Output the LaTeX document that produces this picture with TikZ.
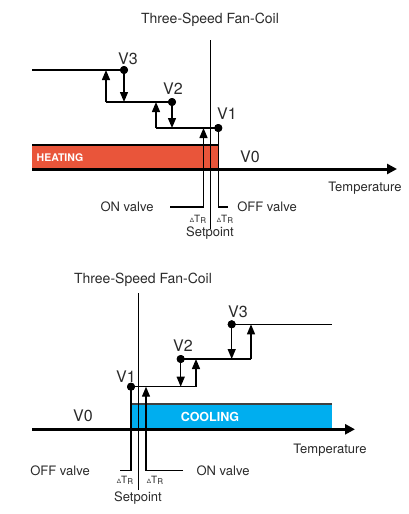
\documentclass[tikz,border=0pt]{standalone}
\usepackage{fontspec}
\setmainfont{TeX Gyre Heros}
\usetikzlibrary{arrows.meta}
\definecolor{heatred}{HTML}{E9553A}
\definecolor{coolblue}{HTML}{00AEEF}
\definecolor{txtgray}{HTML}{2A2A2A}
\newcommand\dtrlabel{{\fontsize{6}{6}\selectfont Δ}{\fontsize{10}{10}\selectfont T}\raisebox{-1pt}{\fontsize{8}{8}\selectfont R}}
\tikzset{
  lnk/.style={line width=1.3pt, black},
  upar/.style={lnk, -{Triangle[width=8pt,length=10pt]}},
  axisline/.style={line width=3pt, black, -{Triangle[width=10pt,length=10pt]}},
  barline/.style={line width=2pt},
  dotmark/.style={circle, fill=black, minimum size=8pt, inner sep=0pt},
  lbl/.style={font=\fontsize{13}{13}\selectfont, text=txtgray, inner sep=0pt},
  ttl/.style={font=\fontsize{14}{14}\selectfont, text=txtgray, inner sep=0pt},
  vlbl/.style={font=\fontsize{16}{16}\selectfont, text=txtgray, inner sep=0pt},
  dtr/.style={text=txtgray, inner sep=0pt},
  barlbl/.style={text=white, inner sep=0pt, font=\bfseries},
}
\begin{document}
\begin{tikzpicture}[x=1pt,y=-1pt]
\useasboundingbox (0,0) rectangle (408,514);
\fill[white] (0,0) rectangle (408,514);

% ================= TOP: HEATING =================
% coordinates
\coordinate (hV3l) at (32,70);
\coordinate (hU3t) at (106,70);
\coordinate (hU3b) at (106,102);
\coordinate (hD3b) at (124,102);
\coordinate (hU2t) at (156,102);
\coordinate (hU2b) at (156,128);
\coordinate (hD2b) at (172,128);
\coordinate (hOnT) at (203.5,128);
\coordinate (hOnC) at (203.5,207);
\coordinate (hOnL) at (170,207);
\coordinate (hOffC) at (218.3,207);
\coordinate (hOffR) at (228,207);
\coordinate (hSpT) at (210.7,40);
\coordinate (hSpB) at (210.7,229);
\coordinate (hAxL) at (32,169);
\coordinate (hAxR) at (397,169);
\coordinate (hBarTL) at (32,145);
\coordinate (hBarTR) at (218.3,145);
\coordinate (hBarBR) at (218.3,169);

% bar
\fill[heatred] (hBarTL) rectangle (hBarBR);
\draw[barline] (hBarTL) -- (hBarTR);
\node[barlbl, font=\bfseries\fontsize{10.5}{10.5}\selectfont] (hHeat) at (60,157.5) {HEATING};

% dots
\node[dotmark] (hV3) at (124,70) {};
\node[dotmark] (hV2) at (172,102) {};
\node[dotmark] (hV1) at (218.3,128) {};

% step lines
\draw[lnk] (hV3l) -- (hV3.center);
\draw[lnk] (hU3b) -- (hV2.center);
\draw[lnk] (hU2b) -- (hV1.center);
\draw[upar] (hU3b) -- (hU3t);
\draw[upar] (hV3.center) -- (hD3b);
\draw[upar] (hU2b) -- (hU2t);
\draw[upar] (hV2.center) -- (hD2b);
% valves
\draw[upar] (hOnL) -- (hOnC) -- (hOnT);
\draw[lnk] (hV1.center) -- (hOffC) -- (hOffR);
% setpoint line
\draw[lnk, line width=1.1pt] (hSpT) -- (hSpB);
% axis
\draw[axisline] (hAxL) -- (hAxR);
% redraw dots on top
\node[dotmark] at (hV3) {};
\node[dotmark] at (hV2) {};
\node[dotmark] at (hV1) {};

% labels
\node[ttl] (hTitle) at (210,20) {Three-Speed Fan-Coil};
\node[vlbl] (hV3t) at (128,59) {V3};
\node[vlbl] (hV2t) at (173,89) {V2};
\node[vlbl] (hV1t) at (227,114) {V1};
\node[vlbl] (hV0t) at (250,157) {V0};
\node[lbl] (hTemp) at (365,188) {Temperature};
\node[lbl] (hOnTxt) at (127,207) {ON valve};
\node[lbl] (hOffTxt) at (267,207) {OFF valve};
\node[dtr] (hDt1) at (198,219) {\dtrlabel};
\node[dtr] (hDt2) at (225,219) {\dtrlabel};
\node[lbl] (hSet) at (210,233) {Setpoint};

% ================= BOTTOM: COOLING =================
\coordinate (cSpT) at (138.3,293);
\coordinate (cSpB) at (138.3,490);
\coordinate (cOffC) at (131,470.7);
\coordinate (cOffL) at (120,470.7);
\coordinate (cOnR) at (183,470.7);
\coordinate (cOnC) at (146,470.7);
\coordinate (cOnT) at (146,386.7);
\coordinate (cU1b) at (196,386.7);
\coordinate (cU1t) at (196,359);
\coordinate (cD2b) at (180.7,386.7);
\coordinate (cU2b) at (251,359);
\coordinate (cU2t) at (251,324.3);
\coordinate (cD3b) at (231.7,359);
\coordinate (cV3r) at (331.7,324.3);
\coordinate (cBarTL) at (131,404.3);
\coordinate (cBarTR) at (331.7,404.3);
\coordinate (cBarBR) at (331.7,429.3);
\coordinate (cAxL) at (32,429.3);
\coordinate (cAxR) at (355,429.3);

\fill[coolblue] (cBarTL) rectangle (cBarBR);
\draw[barline, black!75] (cBarTL) -- (cBarTR);
\node[barlbl, font=\bfseries\fontsize{12.5}{12.5}\selectfont] (cCool) at (210,416.5) {COOLING};

\node[dotmark] (cV1) at (131,386.7) {};
\node[dotmark] (cV2) at (180.7,359) {};
\node[dotmark] (cV3) at (231.7,324.3) {};

\draw[lnk] (cV1.center) -- (cU1b);
\draw[lnk] (cV2.center) -- (cU2b);
\draw[lnk] (cV3.center) -- (cV3r);
\draw[upar] (cU1b) -- (cU1t);
\draw[upar] (cV2.center) -- (cD2b);
\draw[upar] (cU2b) -- (cU2t);
\draw[upar] (cV3.center) -- (cD3b);
\draw[upar] (cOnR) -- (cOnC) -- (cOnT);
\draw[lnk] (cV1.center) -- (cOffC) -- (cOffL);
\draw[lnk, line width=1.1pt] (cSpT) -- (cSpB);
\draw[axisline] (cAxL) -- (cAxR);
\node[dotmark] at (cV1) {};
\node[dotmark] at (cV2) {};
\node[dotmark] at (cV3) {};

\node[ttl] (cTitle) at (143,280) {Three-Speed Fan-Coil};
\node[vlbl] (cV3t) at (238,312) {V3};
\node[vlbl] (cV2t) at (183,346) {V2};
\node[vlbl] (cV1t) at (126,377) {V1};
\node[vlbl] (cV0t) at (83,416) {V0};
\node[lbl] (cTemp) at (330,450) {Temperature};
\node[lbl] (cOffTxt) at (60,470.7) {OFF valve};
\node[lbl] (cOnTxt) at (223,470.7) {ON valve};
\node[dtr] (cDt1) at (125,480) {\dtrlabel};
\node[dtr] (cDt2) at (155,480) {\dtrlabel};
\node[lbl] (cSet) at (138,498) {Setpoint};
\end{tikzpicture}
\end{document}
